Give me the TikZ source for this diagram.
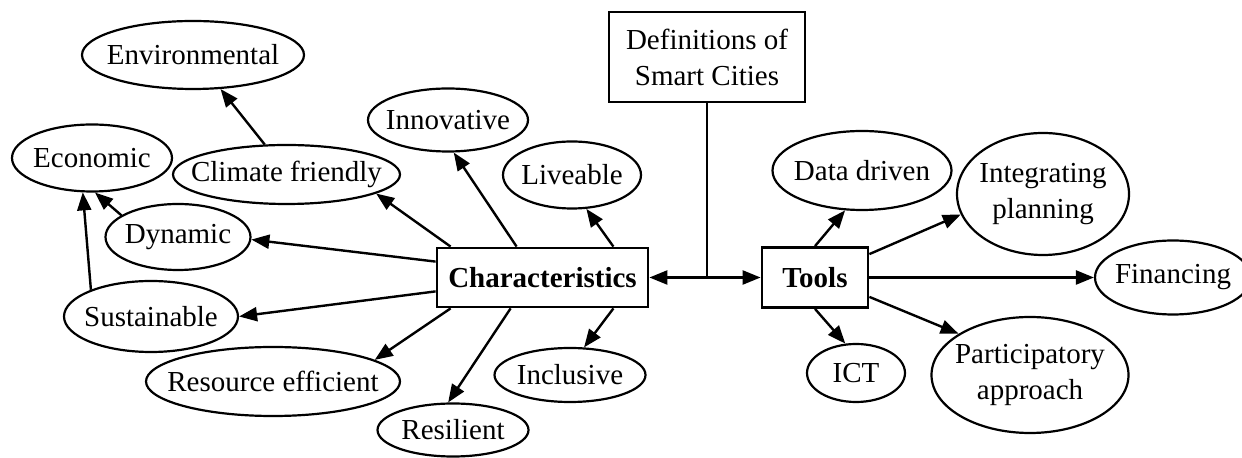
\documentclass[tikz,border=0pt]{standalone}
\usepackage{fontspec}
\setmainfont{Liberation Serif}
\usetikzlibrary{arrows.meta,positioning,calc,shapes.geometric}
\tikzset{
  oval/.style={ellipse, draw, line width=1.1pt, inner xsep=-10pt, inner ysep=0pt, align=center},
  conceptbox/.style={draw, line width=1.4pt, inner sep=0pt, align=center},
  flow/.style={-{Triangle[length=9pt, width=7pt]}, line width=1.2pt},
  twoflow/.style={{Triangle[length=9pt, width=7pt]}-{Triangle[length=9pt, width=7pt]}, line width=1.2pt}
}

\begin{document}
\begin{tikzpicture}[x=0.5pt, y=-0.5pt, font=\fontsize{14.5}{18}\selectfont]
\useasboundingbox (0,0) rectangle (1242,458);

% central boxes
\node[conceptbox, minimum width=98pt, minimum height=45pt] (defs) at (707,57) {Definitions of\\Smart Cities};
\node[conceptbox, minimum width=105.5pt, minimum height=29.5pt] (chars) at (542.5,277.5) {\textbf{Characteristics}};
\node[conceptbox, minimum width=53pt, minimum height=30pt] (tools) at (815,277.5) {\textbf{Tools}};

% characteristics
\node[oval, minimum width=111pt, minimum height=34pt] (env) at (193,55) {Environmental};
\node[oval, minimum width=80pt, minimum height=33.5pt] (eco) at (92,158) {Economic};
\node[oval, minimum width=113.5pt, minimum height=29.5pt] (clim) at (286.5,174.5) {Climate friendly};
\node[oval, minimum width=80pt, minimum height=31.5pt] (inno) at (448,120) {Innovative};
\node[oval, minimum width=69pt, minimum height=33.5pt] (live) at (572,175) {Liveable};
\node[oval, minimum width=72.5pt, minimum height=33pt] (dyn) at (178,237) {Dynamic};
\node[oval, minimum width=87pt, minimum height=35.5pt] (sus) at (151,316.5) {Sustainable};
\node[oval, minimum width=127pt, minimum height=34.5pt] (res) at (273,381.5) {Resource efficient};
\node[oval, minimum width=75.5pt, minimum height=26.5pt] (resil) at (453,430) {Resilient};
\node[oval, minimum width=75.5pt, minimum height=27pt] (incl) at (570,375) {Inclusive};

% tools
\node[oval, minimum width=89.5pt, minimum height=39.5pt] (data) at (862,170.5) {Data driven};
\node[oval, minimum width=86pt, minimum height=61pt] (integ) at (1043,194) {Integrating\\planning};
\node[oval, minimum width=78pt, minimum height=37pt] (fin) at (1173,277.5) {Financing};
\node[oval, minimum width=49pt, minimum height=29pt] (ict) at (856,373) {ICT};
\node[oval, minimum width=98.5pt, minimum height=58pt] (part) at (1030,375) {Participatory\\approach};

\coordinate (hub) at (defs.south |- chars.east);
\draw[line width=1.2pt] (defs.south) -- (hub);
\draw[twoflow] (chars.east) -- (tools.west);

\draw[flow] (clim.126) -- (env.-51);
\draw[flow] (dyn.159) -- (eco.-85);
\draw[flow] (sus.156) -- (eco.-105);

\draw[flow] ($(chars.north west)+(15,0)$) -- (clim.-12);
\draw[flow] ($(chars.north west)+(81,0)$) -- (inno.-80);
\draw[flow] ($(chars.north east)+(-36,0)$) -- (live.-67);
\draw[flow] ($(chars.north west)+(0,15)$) -- (dyn.-2);
\draw[flow] ($(chars.south west)+(0,-17)$) -- (sus.0);
\draw[flow] ($(chars.south west)+(15,0)$) -- (res.12);
\draw[flow] ($(chars.south west)+(75,0)$) -- (resil.100);
\draw[flow] ($(chars.south east)+(-36,0)$) -- (incl.63);

\draw[flow] (tools.north) -- (data.-113);
\draw[flow] ($(tools.north east)+(0,8)$) -- (integ.-166);
\draw[flow] (tools.east) -- (fin.west);
\draw[flow] (tools.south) -- (ict.110);
\draw[flow] ($(tools.south east)+(0,-12)$) -- (part.150);
\end{tikzpicture}
\end{document}
